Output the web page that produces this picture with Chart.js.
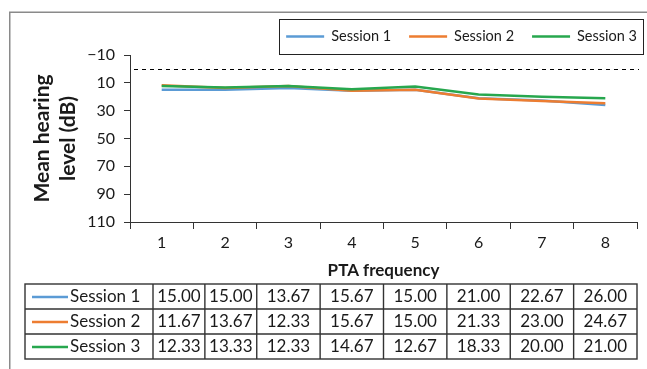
<!DOCTYPE html>
<html>
<head>
<meta charset="utf-8">
<script src="https://cdn.jsdelivr.net/npm/chart.js@4.4.1/dist/chart.umd.min.js"></script>
<style>
  html, body { margin: 0; padding: 0; background: #fff; }
</style>
</head>
<body>
<canvas id="myChart" width="647" height="369"></canvas>
<script>
var frequencies = ['1', '2', '3', '4', '5', '6', '7', '8'];
var session1 = [15.00, 15.00, 13.67, 15.67, 15.00, 21.00, 22.67, 26.00];
var session2 = [11.67, 13.67, 12.33, 15.67, 15.00, 21.33, 23.00, 24.67];
var session3 = [12.33, 13.33, 12.33, 14.67, 12.67, 18.33, 20.00, 21.00];
var sessionNames = ['Session 1', 'Session 2', 'Session 3'];
var levelTicks = [-10, 10, 30, 50, 70, 90, 110];
var referenceLevel = 0;

var colours = ['#5b9bd5', '#ed7d31', '#27a74e'];
var fontName = 'Lato, "Liberation Sans", sans-serif';
var textColour = '#1a1a1a';
var axisColour = '#333333';

// white background + grey outer frame
var framePlugin = {
    id: 'frame',
    beforeDraw: function (chart) {
        var c = chart.ctx;
        c.save();
        c.fillStyle = '#fff';
        c.fillRect(0, 0, chart.width, chart.height);
        c.strokeStyle = '#8a8a8a';
        c.lineWidth = 1.5;
        c.strokeRect(9.75, 12.25, chart.width + 20, chart.height + 20);
        c.restore();
    }
};

// dashed line at the normal hearing level
var referencePlugin = {
    id: 'referenceLine',
    beforeDatasetsDraw: function (chart) {
        var c = chart.ctx, a = chart.chartArea;
        var y = Math.round(chart.scales.y.getPixelForValue(referenceLevel)) + 0.5;
        c.save();
        c.strokeStyle = '#000';
        c.lineWidth = 1;
        c.setLineDash([4, 4]);
        c.beginPath();
        c.moveTo(a.left + 4, y);
        c.lineTo(a.right + 2, y);
        c.stroke();
        c.restore();
    }
};

// boxed legend at the top right
var legendPlugin = {
    id: 'boxLegend',
    afterDraw: function (chart) {
        var c = chart.ctx, a = chart.chartArea;
        var ds = chart.data.datasets;
        c.save();
        c.font = '14.5px ' + fontName;
        var lineLen = 38, gap = 7, itemGap = 18;
        var total = 0;
        ds.forEach(function (d, i) {
            total += lineLen + gap + c.measureText(d.label).width + (i < ds.length - 1 ? itemGap : 0);
        });
        var boxRight = a.right + 6, boxLeft = boxRight - total - 13;
        var top = 19, bottom = 54, mid = 36.5;
        c.strokeStyle = '#222';
        c.lineWidth = 1;
        c.strokeRect(Math.round(boxLeft) + 0.5, top + 0.5, Math.round(boxRight - boxLeft), bottom - top);
        var x = boxLeft + 7;
        c.textBaseline = 'middle';
        c.textAlign = 'left';
        ds.forEach(function (d) {
            c.strokeStyle = d.borderColor;
            c.lineWidth = 2.5;
            c.beginPath();
            c.moveTo(x, mid);
            c.lineTo(x + lineLen, mid);
            c.stroke();
            x += lineLen + gap;
            c.fillStyle = textColour;
            c.fillText(d.label, x, mid);
            x += c.measureText(d.label).width + itemGap;
        });
        c.restore();
    }
};

// data table under the x axis, columns follow the category scale
var tablePlugin = {
    id: 'dataTable',
    afterDraw: function (chart) {
        var c = chart.ctx, xs = chart.scales.x;
        var ds = chart.data.datasets;
        var n = chart.data.labels.length;
        var left = 25, headerRight = 153, top = 284, rowH = 25;
        c.save();
        c.font = '17px ' + fontName;
        var w = (xs.right - xs.left) / n;
        var bounds = [];
        for (var i = 0; i <= n; i++) bounds.push(xs.left + i * w);
        var minW = c.measureText('00.00').width + 7;
        var k = 1;
        while (k < n && (bounds[k] <= headerRight || (bounds[k] - headerRight) / k < minW)) k++;
        var cols = [headerRight];
        for (i = 1; i <= k; i++) cols.push(headerRight + (bounds[k] - headerRight) * i / k);
        for (i = k + 1; i <= n; i++) cols.push(bounds[i]);
        var right = cols[cols.length - 1];
        var bottom = top + rowH * ds.length;

        c.strokeStyle = '#333';
        c.lineWidth = 1.4;
        c.strokeRect(left, top, right - left, bottom - top);
        c.beginPath();
        for (var r = 1; r < ds.length; r++) {
            c.moveTo(left, top + r * rowH);
            c.lineTo(right, top + r * rowH);
        }
        for (i = 0; i < cols.length - 1; i++) {
            c.moveTo(cols[i], top);
            c.lineTo(cols[i], bottom);
        }
        c.stroke();

        c.textBaseline = 'middle';
        ds.forEach(function (d, r) {
            var mid = top + r * rowH + rowH / 2 + 0.5;
            c.strokeStyle = d.borderColor;
            c.lineWidth = 2.5;
            c.beginPath();
            c.moveTo(left + 7, mid);
            c.lineTo(left + 43, mid);
            c.stroke();
            c.fillStyle = textColour;
            c.textAlign = 'left';
            c.fillText(d.label, left + 45, mid);
            c.textAlign = 'center';
            d.data.forEach(function (v, j) {
                c.fillText(v.toFixed(2), (cols[j] + cols[j + 1]) / 2, mid);
            });
        });
        c.restore();
    }
};

var ctx = document.getElementById('myChart').getContext('2d');
var seriesData = [session1, session2, session3];

var myChart = new Chart(ctx, {
    type: 'line',
    data: {
        labels: frequencies,
        datasets: sessionNames.map(function (name, i) {
            return {
                label: name,
                data: seriesData[i],
                borderColor: colours[i],
                backgroundColor: colours[i],
                borderWidth: 2.5,
                pointRadius: 0,
                tension: 0,
                order: sessionNames.length - i
            };
        })
    },
    options: {
        responsive: false,
        animation: false,
        devicePixelRatio: 1,
        layout: { padding: { top: 55, right: 10, left: 0, bottom: 0 } },
        plugins: {
            legend: { display: false },
            tooltip: { enabled: false }
        },
        scales: {
            x: {
                offset: true,
                grid: { drawOnChartArea: false, offset: true, tickLength: 7, color: axisColour, lineWidth: 1 },
                border: { display: true, color: axisColour, width: 1 },
                ticks: { color: textColour, font: { family: fontName, size: 16 }, padding: 4, maxRotation: 0 },
                title: {
                    display: true, text: 'PTA frequency', color: textColour,
                    font: { family: fontName, size: 17, weight: 'bold' },
                    padding: { top: 0, bottom: 88 }
                },
                afterFit: function (scale) { scale.height = 147; }
            },
            y: {
                reverse: true,
                min: levelTicks[0],
                max: levelTicks[levelTicks.length - 1],
                afterBuildTicks: function (scale) {
                    scale.ticks = levelTicks.map(function (v) { return { value: v }; });
                },
                grid: { drawOnChartArea: false, tickLength: 6, color: axisColour, lineWidth: 1 },
                border: { display: true, color: axisColour, width: 1 },
                ticks: {
                    color: textColour, font: { family: fontName, size: 16 }, padding: 9,
                    callback: function (v) { return v < 0 ? '\u2212' + Math.abs(v) : String(v); }
                },
                title: {
                    display: true, text: ['Mean hearing', 'level (dB)'], color: textColour,
                    font: { family: fontName, size: 21, weight: 'bold', lineHeight: 1.2 },
                    padding: { top: 30, bottom: 0 }
                },
                afterFit: function (scale) { scale.width = 130; }
            }
        }
    },
    plugins: [framePlugin, referencePlugin, legendPlugin, tablePlugin]
});
</script>
</body>
</html>
